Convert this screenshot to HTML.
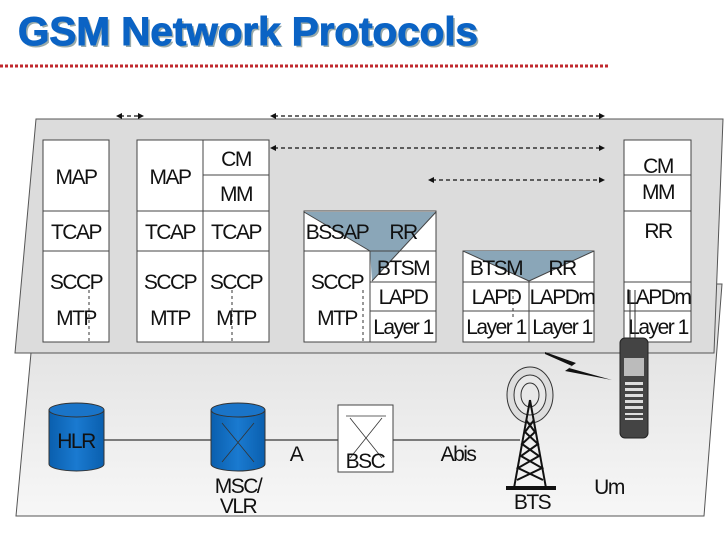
<!DOCTYPE html>
<html><head><meta charset="utf-8"><style>
html,body{margin:0;padding:0;background:#fff;}
svg{display:block;}
text{font-family:"Liberation Sans",sans-serif;}
</style></head><body>
<svg width="728" height="546" viewBox="0 0 728 546" xmlns="http://www.w3.org/2000/svg">
<defs>
<linearGradient id="g" x1="0" y1="0" x2="0" y2="1"><stop offset="0" stop-color="#dcdcdc"/><stop offset="1" stop-color="#f7f7f7"/></linearGradient>
<linearGradient id="cyl" x1="0" y1="0" x2="1" y2="0"><stop offset="0" stop-color="#0a5fae"/><stop offset="0.5" stop-color="#1a7ad0"/><stop offset="1" stop-color="#0a5fae"/></linearGradient>
</defs>
<text x="20" y="47" font-size="40" font-weight="bold" fill="#9aa" textLength="460" lengthAdjust="spacingAndGlyphs">GSM Network Protocols</text>
<text x="18" y="45" font-size="40" font-weight="bold" fill="#0b63c4" stroke="#0b63c4" stroke-width="1" textLength="460" lengthAdjust="spacingAndGlyphs">GSM Network Protocols</text>
<line x1="0" y1="66" x2="608" y2="66" stroke="#c0282d" stroke-width="3" stroke-dasharray="3,2"/>
<polygon points="31,353 710,284 722,284 704,516 16,516" fill="url(#g)" stroke="#555" stroke-width="1"/>
<polygon points="36,119 723,119 714,353 15,353" fill="#dcdcdc" stroke="#555" stroke-width="1"/>
<g stroke="#111" stroke-width="1.2" stroke-dasharray="4,3" fill="none">
<line x1="120" y1="116" x2="140" y2="116"/>
<line x1="274" y1="116" x2="600" y2="116"/>
<line x1="274" y1="148" x2="600" y2="148"/>
<line x1="432" y1="180" x2="600" y2="180"/>
</g>
<g fill="#111">
<polygon points="116,116 122,113 122,119"/><polygon points="144,116 138,113 138,119"/>
<polygon points="270,116 276,113 276,119"/><polygon points="605,116 599,113 599,119"/>
<polygon points="270,148 276,145 276,151"/><polygon points="605,148 599,145 599,151"/>
<polygon points="428,180 434,177 434,183"/><polygon points="605,180 599,177 599,183"/>
</g>
<g stroke="#444" stroke-width="1" fill="#fff">
<rect x="43" y="140" width="66" height="202"/>
<rect x="137" y="140" width="132" height="202"/>
<rect x="304" y="211" width="132" height="131"/>
<rect x="463" y="251" width="131" height="91"/>
<rect x="624" y="140" width="67" height="202"/>
</g>
<polygon points="304,212 436,212 372,281 370,251" fill="#8aa6b8"/>
<polygon points="463,251 594,251 529,281" fill="#8aa6b8"/>
<g stroke="#444" stroke-width="1" fill="none">
<line x1="43" y1="211" x2="109" y2="211"/><line x1="43" y1="251" x2="109" y2="251"/>
<line x1="203" y1="140" x2="203" y2="342"/><line x1="203" y1="175" x2="269" y2="175"/>
<line x1="137" y1="211" x2="269" y2="211"/><line x1="137" y1="251" x2="269" y2="251"/>
<line x1="304" y1="251" x2="436" y2="251"/><line x1="370" y1="251" x2="370" y2="342"/>
<line x1="370" y1="282" x2="436" y2="282"/><line x1="370" y1="311" x2="436" y2="311"/>
<line x1="304" y1="212" x2="370" y2="251"/><line x1="436" y1="212" x2="372" y2="281"/>
<line x1="463" y1="251" x2="529" y2="281"/><line x1="594" y1="251" x2="529" y2="281"/>
<line x1="529" y1="281" x2="529" y2="342"/><line x1="463" y1="282" x2="594" y2="282"/><line x1="463" y1="311" x2="594" y2="311"/>
<line x1="624" y1="175" x2="691" y2="175"/><line x1="624" y1="211" x2="691" y2="211"/>
<line x1="624" y1="282" x2="691" y2="282"/><line x1="624" y1="311" x2="691" y2="311"/>
</g>
<g stroke="#333" stroke-width="1" stroke-dasharray="3,3">
<line x1="89" y1="290" x2="89" y2="342"/><line x1="232" y1="290" x2="232" y2="342"/>
<line x1="363" y1="290" x2="363" y2="342"/><line x1="513" y1="290" x2="513" y2="318"/>
</g>
<g font-size="21" fill="#111" text-anchor="middle" style="letter-spacing:-1.5px">
<text x="76" y="184">MAP</text><text x="76" y="239">TCAP</text><text x="76" y="289">SCCP</text><text x="76" y="325">MTP</text>
<text x="170" y="184">MAP</text><text x="236" y="166">CM</text><text x="236" y="201">MM</text>
<text x="170" y="239">TCAP</text><text x="236" y="239">TCAP</text>
<text x="170" y="289">SCCP</text><text x="236" y="289">SCCP</text>
<text x="170" y="325">MTP</text><text x="236" y="325">MTP</text>
<text x="337" y="239">BSSAP</text><text x="403" y="239">RR</text>
<text x="337" y="289">SCCP</text><text x="337" y="325">MTP</text>
<text x="403" y="275">BTSM</text><text x="403" y="304">LAPD</text><text x="403" y="334">Layer 1</text>
<text x="496" y="275">BTSM</text><text x="562" y="275">RR</text>
<text x="496" y="304">LAPD</text><text x="562" y="304">LAPDm</text>
<text x="496" y="334">Layer 1</text><text x="562" y="334">Layer 1</text>
<text x="658" y="173">CM</text><text x="658" y="199">MM</text><text x="658" y="238">RR</text>
<text x="658" y="304">LAPDm</text><text x="658" y="334">Layer 1</text>
</g>
<line x1="74" y1="440" x2="520" y2="440" stroke="#555" stroke-width="1.5"/>
<g stroke="#333" stroke-width="1">
<path d="M49,410 L49,464 A27.5,7 0 0 0 104,464 L104,410 Z" fill="url(#cyl)"/>
<ellipse cx="76.5" cy="410" rx="27.5" ry="7" fill="#1a74c8"/>
<path d="M211,410 L211,464 A27,7 0 0 0 265,464 L265,410 Z" fill="url(#cyl)"/>
<ellipse cx="238" cy="410" rx="27" ry="7" fill="#1a74c8"/>
</g>
<g stroke="#333" stroke-width="0.8" fill="none"><line x1="222" y1="423" x2="254" y2="462"/><line x1="254" y1="423" x2="222" y2="462"/></g>
<rect x="338" y="405" width="55" height="67" fill="#fff" stroke="#444"/>
<g stroke="#333" stroke-width="0.8" fill="none"><line x1="346" y1="416" x2="386" y2="416"/><line x1="350" y1="418" x2="382" y2="458"/><line x1="382" y1="418" x2="350" y2="458"/></g>
<g font-size="21" fill="#111" text-anchor="middle" style="letter-spacing:-1.5px">
<text x="76" y="448" fill="#111">HLR</text>
<text x="296" y="461">A</text><text x="365" y="468">BSC</text><text x="458" y="461">Abis</text>
<text x="238" y="493">MSC/</text><text x="238" y="513">VLR</text>
<text x="532" y="509">BTS</text><text x="609" y="494">Um</text>
</g>
<g fill="none" stroke="#333" stroke-width="1">
<ellipse cx="530" cy="395" rx="23" ry="28" fill="#ddd"/>
<ellipse cx="530" cy="395" rx="16" ry="20" fill="#e8e8e8"/>
<ellipse cx="530" cy="395" rx="9" ry="12"/>
</g>
<g stroke="#111" stroke-width="2" fill="none">
<line x1="530" y1="400" x2="514" y2="488"/><line x1="530" y1="400" x2="546" y2="488"/>
<path d="M526,420 L535,432 L522,444 L539,456 L518,468 L543,480 M534,420 L525,432 L538,444 L521,456 L542,468 L517,480"/>
</g>
<rect x="506" y="486" width="50" height="4" fill="#111"/>
<polygon points="545,352 576,363 569,368 612,380 565,371 572,366 545,354" fill="#111"/>
<rect x="620" y="338" width="28" height="100" rx="5" fill="#444" stroke="#222"/>
<rect x="624" y="358" width="20" height="18" fill="#bbb"/>
<g fill="#ddd"><rect x="625" y="382" width="18" height="3"/><rect x="625" y="388" width="18" height="3"/><rect x="625" y="394" width="18" height="3"/><rect x="625" y="400" width="18" height="3"/><rect x="625" y="406" width="18" height="3"/><rect x="625" y="413" width="18" height="2"/><rect x="625" y="418" width="18" height="2"/></g>
<line x1="630" y1="290" x2="630" y2="338" stroke="#333"/><line x1="635" y1="290" x2="635" y2="338" stroke="#333"/>
</svg>
</body></html>
